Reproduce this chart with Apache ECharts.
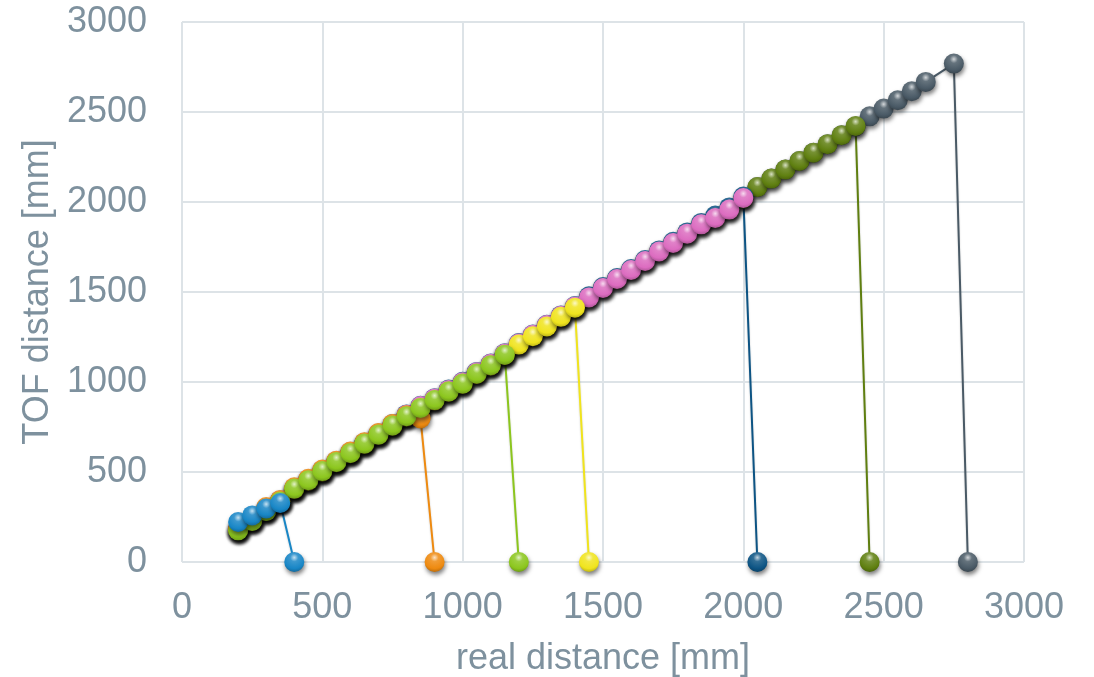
<!DOCTYPE html>
<html>
<head>
<meta charset="utf-8">
<script src="https://cdn.jsdelivr.net/npm/echarts@6/dist/echarts.min.js"></script>
<style>html,body{margin:0;padding:0;background:#fff}#c{width:1094px;height:677px}</style>
</head>
<body>
<div id="c"></div>
<script>
// real distance [mm] of measured points (shared by all series)
var realDistance = [200,250,300,350,400,450,500,550,600,650,700,750,800,850,900,950,1000,1050,1100,1150,1200,1250,1300,1350,1400,1450,1500,1550,1600,1650,1700,1750,1800,1850,1900,1950,2000,2050,2100,2150,2200,2250,2300,2350,2400,2450,2500,2550,2600,2650,2750];

// TOF distance [mm] readings per series
var tofBlue     = [222,259,297,328];
var tofOrange   = [185,240,305,345,415,462,514,563,614,665,716,767,815,797];
var tofGreen    = [176,228,283,336,408,454,505,556,606,658,708,759,810,856,900,948,991,1047,1093,1152];
var tofYellow   = [178,230,285,338,405,452,503,554,604,656,706,757,808,855,898,946,990,1045,1092,1150,1208,1254,1309,1362,1413];
var tofPink     = [180,232,287,340,408,456,507,558,609,661,712,764,818,866,908,956,999,1054,1101,1158,1214,1262,1316,1368,1420,1470,1522,1572,1622,1672,1725,1772,1824,1876,1911,1958,2022];
var tofDarkBlue = [182,234,289,342,410,458,509,560,611,663,714,766,820,868,910,958,1001,1056,1103,1160,1216,1264,1318,1370,1422,1476,1528,1578,1628,1678,1731,1779,1831,1884,1925,1970,2030];
var tofOlive    = [180,232,287,340,406,454,505,556,606,658,708,759,810,856,900,948,991,1047,1093,1152,1208,1254,1309,1362,1413,1470,1522,1572,1622,1672,1725,1772,1824,1876,1911,1958,2020,2083,2130,2180,2228,2274,2321,2371,2422];
var tofGray     = [180,232,287,340,406,454,505,556,606,658,708,759,810,856,900,948,991,1047,1093,1152,1208,1254,1309,1362,1413,1470,1522,1572,1622,1672,1725,1772,1824,1876,1911,1958,2020,2083,2130,2180,2228,2274,2321,2371,2420,2476,2519,2565,2615,2667,2769];

// final point of each run (real distance where TOF reads 0)
var dropDistance = {gray:2800, olive:2450, darkBlue:2050, pink:null, yellow:1450, orange:900, green:1200, blue:400};
var dropTof = 0;

var xTicks = [0,500,1000,1500,2000,2500,3000];
var yTicks = [0,500,1000,1500,2000,2500,3000];

var seriesDefs = [
  {key:'gray',     tof:tofGray,     color:'#4a5a66'},
  {key:'olive',    tof:tofOlive,    color:'#5f7f10'},
  {key:'darkBlue', tof:tofDarkBlue, color:'#0d5484'},
  {key:'pink',     tof:tofPink,     color:'#dc6cc0'},
  {key:'yellow',   tof:tofYellow,   color:'#f0e41e'},
  {key:'orange',   tof:tofOrange,   color:'#ee8a10'},
  {key:'green',    tof:tofGreen,    color:'#8cc61e'},
  {key:'blue',     tof:tofBlue,     color:'#1886c6'}
];

function hex2rgb(h){h=h.replace('#','');return [parseInt(h.substr(0,2),16),parseInt(h.substr(2,2),16),parseInt(h.substr(4,2),16)];}
function mix(h,t,a){var c=hex2rgb(h);var r=c.map(function(v,i){return Math.round(v+(t[i]-v)*a);});return 'rgb('+r.join(',')+')';}

var series = seriesDefs.map(function(s){
  var data = s.tof.map(function(v,i){return [realDistance[i], v];});
  var d = dropDistance[s.key];
  if (d !== null) data.push([d, dropTof]);
  return {
    type:'line', name:s.key, data:data,
    symbol:'circle', symbolSize:20,
    lineStyle:{color:s.color, width:2, shadowColor:'rgba(0,0,0,0.2)', shadowBlur:2, shadowOffsetY:1},
    itemStyle:{
      color:{type:'radial', x:0.5, y:0.28, r:0.8, colorStops:[
        {offset:0, color:mix(s.color,[255,255,255],0.75)},
        {offset:0.25, color:mix(s.color,[255,255,255],0.15)},
        {offset:0.68, color:s.color},
        {offset:1, color:mix(s.color,[0,0,0],0.3)}
      ]},
      borderWidth:0,
      shadowColor:'rgba(0,0,0,0.5)', shadowBlur:4, shadowOffsetX:1, shadowOffsetY:3
    },
    emphasis:{disabled:true},
    animation:false
  };
});

var labelColor = '#7e919e';
var font = 'Liberation Sans, Arial, sans-serif';
var chart = echarts.init(document.getElementById('c'));
chart.setOption({
  animation:false,
  grid:{left:182, right:70, top:22, bottom:115, containLabel:false, outerBoundsMode:'none'},
  xAxis:{
    type:'value', min:xTicks[0], max:xTicks[xTicks.length-1], interval:500,
    name:'real distance [mm]', nameLocation:'middle', nameGap:79,
    nameTextStyle:{color:labelColor, fontSize:36, fontFamily:font},
    axisLine:{show:false}, axisTick:{show:false},
    axisLabel:{color:labelColor, fontSize:36, margin:28, fontFamily:font, formatter:function(v){return String(v);}},
    splitLine:{show:true, lineStyle:{color:'#dde3e7', width:2}}
  },
  yAxis:{
    type:'value', min:yTicks[0], max:yTicks[yTicks.length-1], interval:500,
    name:'TOF distance [mm]', nameLocation:'middle', nameGap:121,
    nameTextStyle:{color:labelColor, fontSize:36, fontFamily:font},
    axisLine:{show:false}, axisTick:{show:false},
    axisLabel:{color:labelColor, fontSize:36, margin:35, fontFamily:font, formatter:function(v){return String(v);}},
    splitLine:{show:true, lineStyle:{color:'#dde3e7', width:2}}
  },
  series:series
});
</script>
</body>
</html>
